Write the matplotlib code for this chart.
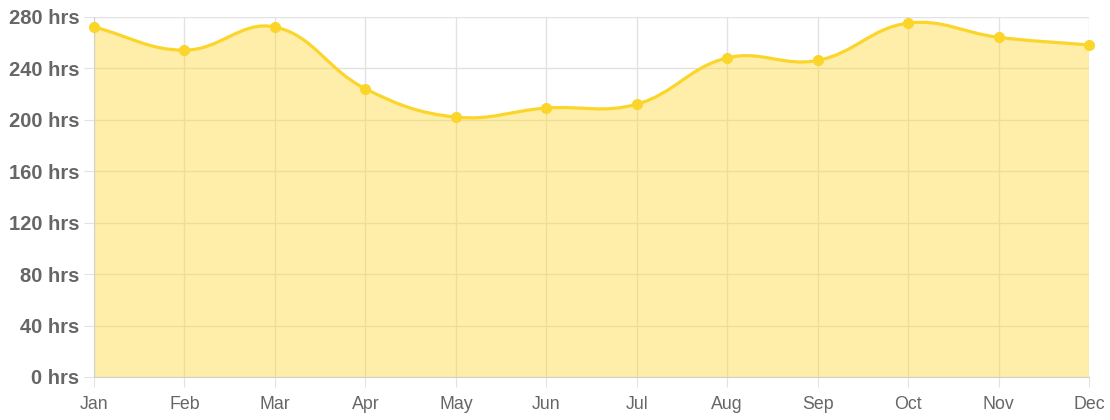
import numpy as np
import matplotlib.pyplot as plt
from matplotlib.path import Path
from matplotlib.patches import PathPatch

months = ['Jan', 'Feb', 'Mar', 'Apr', 'May', 'Jun', 'Jul', 'Aug', 'Sep', 'Oct', 'Nov', 'Dec']
hours = [272, 254, 272, 224, 202, 209, 212, 248, 246, 275, 264, 258]
yticks = [0, 40, 80, 120, 160, 200, 240, 280]

plt.rcParams['font.family'] = ['Liberation Sans', 'DejaVu Sans']

W, H = 1110, 420
fig = plt.figure(figsize=(W / 100, H / 100), dpi=100)
left, right, top, bottom = 94, 1089, 16.7, 377
ax = fig.add_axes([left / W, 1 - bottom / H, (right - left) / W, (bottom - top) / H])
ax.set_xlim(0, len(months) - 1)
ax.set_ylim(0, 280)

line_c = '#fcd52b'
fill_c = (253 / 255, 214 / 255, 43 / 255, 0.4)

# bezier spline like chart.js (tension 0.4), computed in pixel space
x = np.arange(len(hours), dtype=float)
y = np.array(hours, dtype=float)
sx = (right - left) / (len(months) - 1)
sy = (bottom - top) / 280
px, py = x * sx, y * sy
t = 0.4
cps = []
n = len(px)
for i in range(n):
    p0 = (px[max(i - 1, 0)], py[max(i - 1, 0)])
    p1 = (px[i], py[i])
    p2 = (px[min(i + 1, n - 1)], py[min(i + 1, n - 1)])
    d01 = np.hypot(p1[0] - p0[0], p1[1] - p0[1])
    d12 = np.hypot(p2[0] - p1[0], p2[1] - p1[1])
    tot = d01 + d12
    s01 = d01 / tot if tot else 0
    s12 = d12 / tot if tot else 0
    fa, fb = t * s01, t * s12
    prev = (p1[0] - fa * (p2[0] - p0[0]), p1[1] - fa * (p2[1] - p0[1]))
    nxt = (p1[0] + fb * (p2[0] - p0[0]), p1[1] + fb * (p2[1] - p0[1]))
    prev = (prev[0] / sx, min(prev[1] / sy, 280))
    nxt = (nxt[0] / sx, min(nxt[1] / sy, 280))
    cps.append((prev, nxt))

verts = [(x[0], y[0])]
codes = [Path.MOVETO]
for i in range(n - 1):
    verts += [cps[i][1], cps[i + 1][0], (x[i + 1], y[i + 1])]
    codes += [Path.CURVE4] * 3
line_path = Path(verts, codes)
fill_path = Path(verts + [(x[-1], 0), (x[0], 0), (x[0], y[0])],
                 codes + [Path.LINETO, Path.LINETO, Path.CLOSEPOLY])

ax.add_patch(PathPatch(fill_path, facecolor=fill_c, edgecolor='none', zorder=2))
ax.add_patch(PathPatch(line_path, facecolor='none', edgecolor=line_c, lw=2.3, zorder=3, clip_on=False))
ax.plot(x, y, 'o', color=line_c, ms=7, zorder=4, clip_on=False)

ax.set_xticks(x)
ax.set_xticklabels(months)
ax.set_yticks(yticks)
ax.set_yticklabels([f'{v} hrs' for v in yticks])
ax.grid(True, color='#e2e2e2', lw=1, zorder=1)
ax.set_axisbelow(True)
for s in ['top', 'right']:
    ax.spines[s].set_visible(False)
for s in ['left', 'bottom']:
    ax.spines[s].set_color('#d0d0d0')
ax.tick_params(axis='both', length=7, color='#e2e2e2', colors='#666666')
ax.tick_params(axis='y', pad=3.5, labelsize=14.5)
ax.tick_params(axis='x', pad=6.5, labelsize=12.8)
for lb in ax.get_yticklabels():
    lb.set_fontweight('bold')

fig.savefig('out.png', dpi=100)
